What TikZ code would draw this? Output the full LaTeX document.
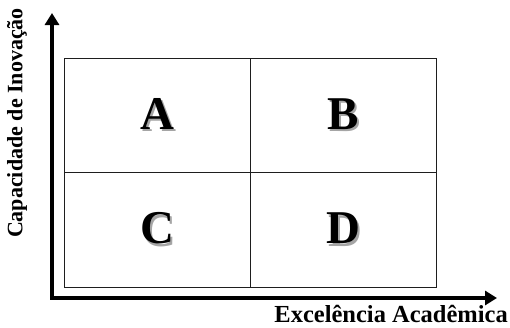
\documentclass[tikz,border=0pt]{standalone}
\usepackage{fontspec}
\setmainfont{Liberation Serif}
\usepackage{xcolor}
\usetikzlibrary{arrows.meta,positioning}
\definecolor{qdedge}{RGB}{30,30,30}
\definecolor{qdshade}{RGB}{165,165,165}
% letter with a soft grey shadow behind it
\newcommand{\shadowed}[1]{%
  \makebox[0pt][l]{\hspace{2.2pt}\raisebox{-2.2pt}{\textcolor{qdshade}{#1}}}#1}
\tikzset{
  cell/.style={
    draw=qdedge, line width=1pt, minimum width=186pt, minimum height=114.5pt,
    inner sep=0pt
  },
  letter/.style={font=\fontsize{47}{47}\selectfont\bfseries, inner sep=0pt},
  axisarr/.style={
    {Triangle[length=12pt,width=14pt]}-{Triangle[length=12pt,width=14pt]},
    draw=black, line width=3.2pt, line join=miter
  },
  axlabel/.style={font=\fontsize{22}{22}\selectfont\bfseries, inner sep=0pt}
}
\begin{document}
\begin{tikzpicture}[x=1pt, y=-1pt]
  \useasboundingbox (0,0) rectangle (510,327);
  % quadrants
  \node[cell] (qa) at (157,115.25) {};
  \node[cell] (qb) at (343,115.25) {};
  \node[cell] (qc) at (157,229.75) {};
  \node[cell] (qd) at (343,229.75) {};
  % letters
  \foreach \q/\t in {qa/A, qb/B, qc/C, qd/D}
    \node[letter] (\q l) at (\q.center) {\shadowed{\t}};
  % axes
  \coordinate (orig) at (52,298);
  \coordinate (ytip) at (52,13);
  \coordinate (xtip) at (497,298);
  \draw[axisarr] (ytip) |- (xtip);
  \node[axlabel, rotate=90] (ylab) at (17,123) {Capacidade de Inovação};
  \node[axlabel, font=\fontsize{24.5}{24.5}\selectfont\bfseries,
    anchor=base east] (xlab) at (508,322) {Excelência Acadêmica};
\end{tikzpicture}
\end{document}
